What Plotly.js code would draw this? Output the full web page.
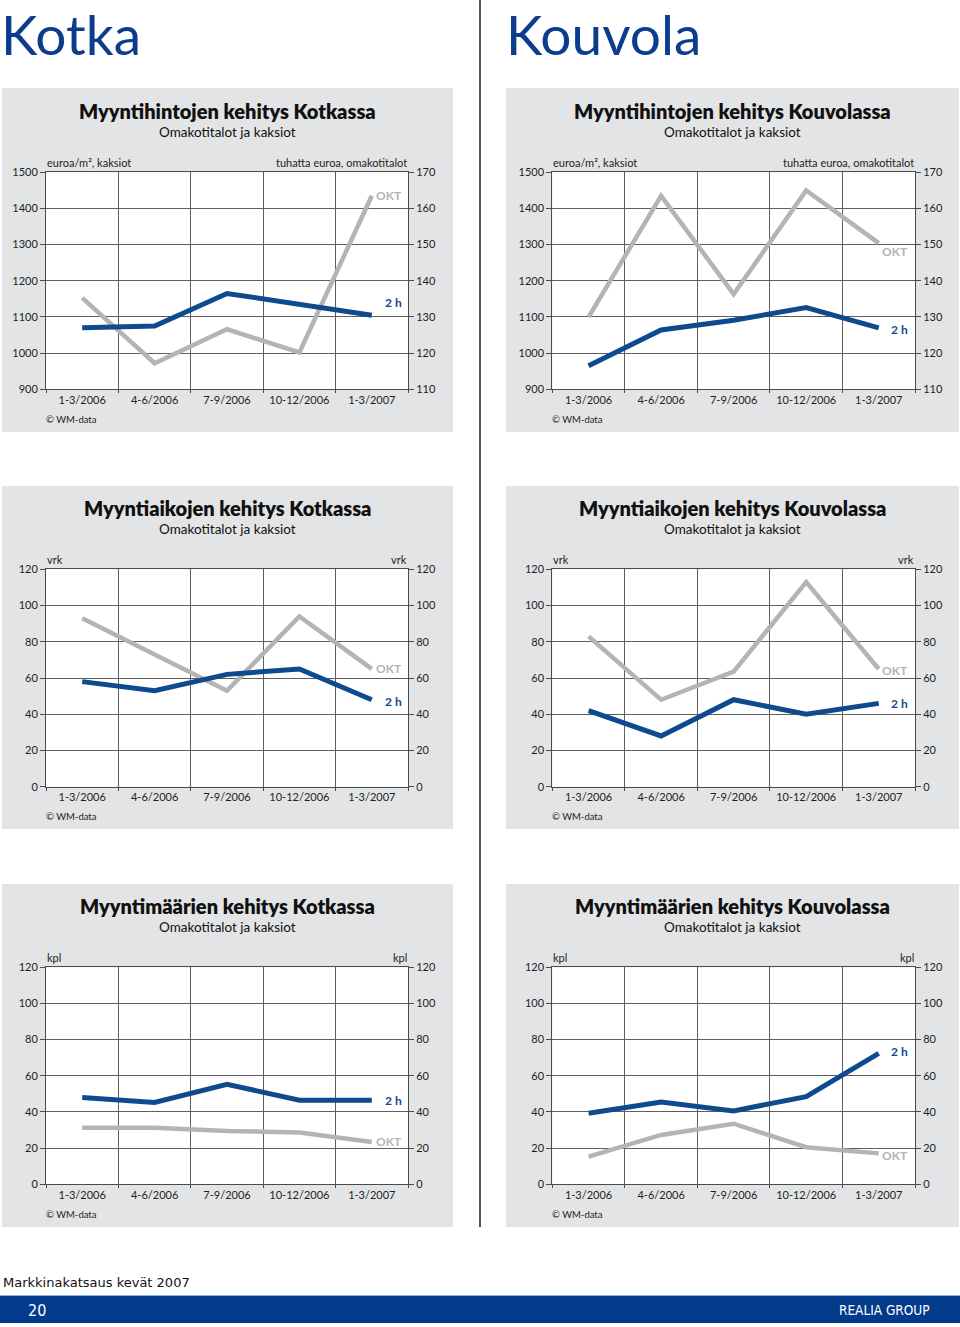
<!DOCTYPE html>
<html><head><meta charset="utf-8">
<script src="https://cdn.plot.ly/plotly-3.0.1.min.js"></script>
<style>html,body{margin:0;padding:0;background:#fff;} #chart{width:960px;height:1327px;}</style>
</head><body><div id="chart"></div>
<script>
// ---- data ----
const periods = ['1-3/2006', '4-6/2006', '7-9/2006', '10-12/2006', '1-3/2007'];

const kotkaPrice2h    = [1070, 1075, 1165, 1135, 1105];
const kotkaPriceOkt   = [135.3, 117.2, 126.6, 120.2, 163.5];
const kouvolaPrice2h  = [965, 1064, 1091, 1126, 1070];
const kouvolaPriceOkt = [130, 163.5, 136.3, 165, 150.4];

const kotkaTime2h     = [58, 53, 62, 65, 48];
const kotkaTimeOkt    = [93, 73, 53, 94, 65];
const kouvolaTime2h   = [42, 28, 48, 40, 46];
const kouvolaTimeOkt  = [83, 48, 63.5, 113, 65];

const kotkaCount2h    = [48, 45.3, 55.3, 46.5, 46.5];
const kotkaCountOkt   = [31.3, 31.3, 29.5, 28.6, 23.4];
const kouvolaCount2h  = [39.3, 45.5, 40.6, 48.5, 72.4];
const kouvolaCountOkt = [15.3, 27.3, 33.5, 20.5, 17.1];

const cityTitles = ['Kotka', 'Kouvola'];
const subTitle = 'Omakotitalot ja kaksiot';
const sourceNote = '© WM-data';
const label2h = '2 h';
const labelOkt = 'OKT';

// ---- layout helpers ----
const W = 960, H = 1327;
const fx = p => p / W;
const fy = p => 1 - p / H;
const FONT = 'Lato, "Open Sans", sans-serif';
const BLUE = '#0e4a8e';
const GRAY = '#b4b4b4';
const DARK = '#1e1e1e';
const GRID = '#5e5e5e';
const AXIS = '#4a4a4a';
const PANELBG = '#e3e4e5';

const cols = [
  {plot: [46, 408], bg: [2, 453], xs: 32},
  {plot: [552.3, 915], bg: [506, 959], xs: 31}
];
const rows = [
  {plot: [172.3, 389.3], bg: [88, 432]},
  {plot: [569.3, 786.7], bg: [486, 829]},
  {plot: [967.3, 1184.3], bg: [884, 1227]}
];

const panels = [
  {title: 'Myyntihintojen kehitys Kotkassa', c: 0, r: 0, a: kotkaPrice2h, b: kotkaPriceOkt,
   rA: [900, 1500], dA: 100, rB: [110, 170], dB: 10, uL: 'euroa/m², kaksiot', uR: 'tuhatta euroa, omakotitalot', sA: 13, sB: 0},
  {title: 'Myyntihintojen kehitys Kouvolassa', c: 1, r: 0, a: kouvolaPrice2h, b: kouvolaPriceOkt,
   rA: [900, 1500], dA: 100, rB: [110, 170], dB: 10, uL: 'euroa/m², kaksiot', uR: 'tuhatta euroa, omakotitalot', sA: -2, sB: -8},
  {title: 'Myyntiaikojen kehitys Kotkassa', c: 0, r: 1, a: kotkaTime2h, b: kotkaTimeOkt,
   rA: [0, 120], dA: 20, rB: [0, 120], dB: 20, uL: 'vrk', uR: 'vrk', sA: -2, sB: 0},
  {title: 'Myyntiaikojen kehitys Kouvolassa', c: 1, r: 1, a: kouvolaTime2h, b: kouvolaTimeOkt,
   rA: [0, 120], dA: 20, rB: [0, 120], dB: 20, uL: 'vrk', uR: 'vrk', sA: 0, sB: -2},
  {title: 'Myyntimäärien kehitys Kotkassa', c: 0, r: 2, a: kotkaCount2h, b: kotkaCountOkt,
   rA: [0, 120], dA: 20, rB: [0, 120], dB: 20, uL: 'kpl', uR: 'kpl', sA: 0, sB: 0},
  {title: 'Myyntimäärien kehitys Kouvolassa', c: 1, r: 2, a: kouvolaCount2h, b: kouvolaCountOkt,
   rA: [0, 120], dA: 20, rB: [0, 120], dB: 20, uL: 'kpl', uR: 'kpl', sA: 2, sB: -2}
];

const data = [];
const shapes = [];
const annotations = [];
const layout = {
  width: W, height: H, autosize: false,
  margin: {l: 0, r: 0, t: 0, b: 0, pad: 0},
  paper_bgcolor: '#ffffff', plot_bgcolor: 'rgba(0,0,0,0)',
  showlegend: false, hovermode: false,
  font: {family: FONT, size: 11, color: DARK}
};

const tickFont = {family: FONT, size: 11, color: DARK};

panels.forEach((p, i) => {
  const col = cols[p.c], row = rows[p.r];
  const xn = i === 0 ? '' : String(i + 1);
  const yMainN = 2 * i + 1, yOvN = 2 * i + 2;
  const yMain = yMainN === 1 ? '' : String(yMainN);
  const yOv = String(yOvN);

  shapes.push({type: 'rect', xref: 'paper', yref: 'paper', layer: 'below',
    x0: fx(col.bg[0]), x1: fx(col.bg[1]), y0: fy(row.bg[1]), y1: fy(row.bg[0]),
    fillcolor: PANELBG, line: {width: 0}});
  shapes.push({type: 'rect', xref: 'paper', yref: 'paper', layer: 'below',
    x0: fx(col.plot[0]), x1: fx(col.plot[1]), y0: fy(row.plot[1]), y1: fy(row.plot[0]),
    fillcolor: '#ffffff', line: {width: 0}});

  layout['xaxis' + xn] = {
    type: 'category', domain: [fx(col.plot[0]), fx(col.plot[1])], anchor: 'y' + yMain,
    range: [-0.5, 4.5], tickson: 'boundaries', showgrid: true, gridcolor: GRID, gridwidth: 1,
    showline: true, mirror: true, linecolor: AXIS, linewidth: 1,
    ticks: 'outside', ticklen: 3, tickcolor: AXIS, tickfont: tickFont, fixedrange: true
  };
  layout['yaxis' + yMain] = {
    domain: [fy(row.plot[1]), fy(row.plot[0])], anchor: 'x' + xn, side: 'right',
    range: p.rB, dtick: p.dB, tick0: p.rB[0], showgrid: true, gridcolor: GRID, gridwidth: 1,
    zeroline: false, showline: true, linecolor: AXIS, linewidth: 1,
    ticks: 'outside', ticklen: 5, tickcolor: AXIS, tickfont: tickFont, fixedrange: true
  };
  layout['yaxis' + yOv] = {
    overlaying: 'y' + yMain, anchor: 'x' + xn, side: 'left',
    range: p.rA, dtick: p.dA, tick0: p.rA[0], showgrid: false,
    zeroline: false, showline: true, linecolor: AXIS, linewidth: 1,
    ticks: 'outside', ticklen: 5, tickcolor: AXIS, tickfont: tickFont, fixedrange: true
  };

  data.push({type: 'scatter', mode: 'lines', x: periods, y: p.b,
    xaxis: 'x' + xn, yaxis: 'y' + yMain, line: {color: GRAY, width: 4.5}, hoverinfo: 'skip'});
  data.push({type: 'scatter', mode: 'lines', x: periods, y: p.a,
    xaxis: 'x' + xn, yaxis: 'y' + yOv, line: {color: BLUE, width: 5}, hoverinfo: 'skip'});

  annotations.push({xref: 'x' + xn, yref: 'y' + yOv, x: periods[4], y: p.a[4],
    text: label2h, showarrow: false, xanchor: 'right', yanchor: 'middle', xshift: col.xs, yshift: p.sA,
    font: {family: FONT, size: 12, color: BLUE, weight: 700}});
  annotations.push({xref: 'x' + xn, yref: 'y' + yMain, x: periods[4], y: p.b[4],
    text: labelOkt, showarrow: false, xanchor: 'right', yanchor: 'middle', xshift: col.xs, yshift: p.sB,
    font: {family: FONT, size: 12, color: GRAY, weight: 700}});

  const cx = (col.bg[0] + col.bg[1]) / 2;
  const top = row.plot[0], bot = row.plot[1];
  annotations.push({xref: 'paper', yref: 'paper', x: fx(cx), y: fy(top - 61), text: p.title,
    showarrow: false, xanchor: 'center', yanchor: 'middle',
    font: {family: FONT, size: 20, color: '#111', weight: 800}});
  annotations.push({xref: 'paper', yref: 'paper', x: fx(cx), y: fy(top - 40), text: subTitle,
    showarrow: false, xanchor: 'center', yanchor: 'middle',
    font: {family: FONT, size: 13.5, color: '#111'}});
  annotations.push({xref: 'paper', yref: 'paper', x: fx(col.plot[0] - 1), y: fy(top - 10), text: p.uL,
    showarrow: false, xanchor: 'left', yanchor: 'middle', font: {family: FONT, size: 11, color: DARK}});
  annotations.push({xref: 'paper', yref: 'paper', x: fx(col.plot[1] + 1), y: fy(top - 10), text: p.uR,
    showarrow: false, xanchor: 'right', yanchor: 'middle', font: {family: FONT, size: 11, color: DARK}});
  annotations.push({xref: 'paper', yref: 'paper', x: fx(col.plot[0] - 2), y: fy(bot + 30), text: sourceNote,
    showarrow: false, xanchor: 'left', yanchor: 'middle', font: {family: FONT, size: 9.5, color: DARK}});
});

// page headings
annotations.push({xref: 'paper', yref: 'paper', x: fx(0), y: 1, text: cityTitles[0], borderpad: 0,
  showarrow: false, xanchor: 'left', yanchor: 'top', font: {family: FONT, size: 55, color: '#0b3d8c'}});
annotations.push({xref: 'paper', yref: 'paper', x: fx(505), y: 1, text: cityTitles[1], borderpad: 0,
  showarrow: false, xanchor: 'left', yanchor: 'top', font: {family: FONT, size: 55, color: '#0b3d8c'}});

// divider
shapes.push({type: 'line', xref: 'paper', yref: 'paper', x0: fx(480), x1: fx(480), y0: fy(0), y1: fy(1227),
  line: {color: '#555555', width: 2}, layer: 'below'});

// footer
shapes.push({type: 'rect', xref: 'paper', yref: 'paper', layer: 'below',
  x0: 0, x1: 1, y0: fy(1323), y1: fy(1296), fillcolor: '#023b8c', line: {width: 0}});
shapes.push({type: 'line', xref: 'paper', yref: 'paper', layer: 'below',
  x0: 0, x1: 1, y0: fy(1295.5), y1: fy(1295.5), line: {color: '#8db0dd', width: 1}});
annotations.push({xref: 'paper', yref: 'paper', x: fx(1), y: fy(1282), text: 'Markkinakatsaus kevät 2007',
  showarrow: false, xanchor: 'left', yanchor: 'middle', font: {family: '"DejaVu Sans", Verdana, sans-serif', size: 13, color: '#111'}});
annotations.push({xref: 'paper', yref: 'paper', x: fx(26), y: fy(1310), text: '20',
  showarrow: false, xanchor: 'left', yanchor: 'middle', font: {family: '"DejaVu Sans Condensed", "Liberation Sans Narrow", Roboto, sans-serif', size: 16, color: '#ffffff'}});
annotations.push({xref: 'paper', yref: 'paper', x: fx(932), y: fy(1310), text: 'REALIA GROUP',
  showarrow: false, xanchor: 'right', yanchor: 'middle', font: {family: '"DejaVu Sans Condensed", "Liberation Sans Narrow", Roboto, sans-serif', size: 13.5, color: '#ffffff'}});

layout.shapes = shapes;
layout.annotations = annotations;

Plotly.newPlot('chart', data, layout, {staticPlot: true, displayModeBar: false});
</script>
</body></html>
